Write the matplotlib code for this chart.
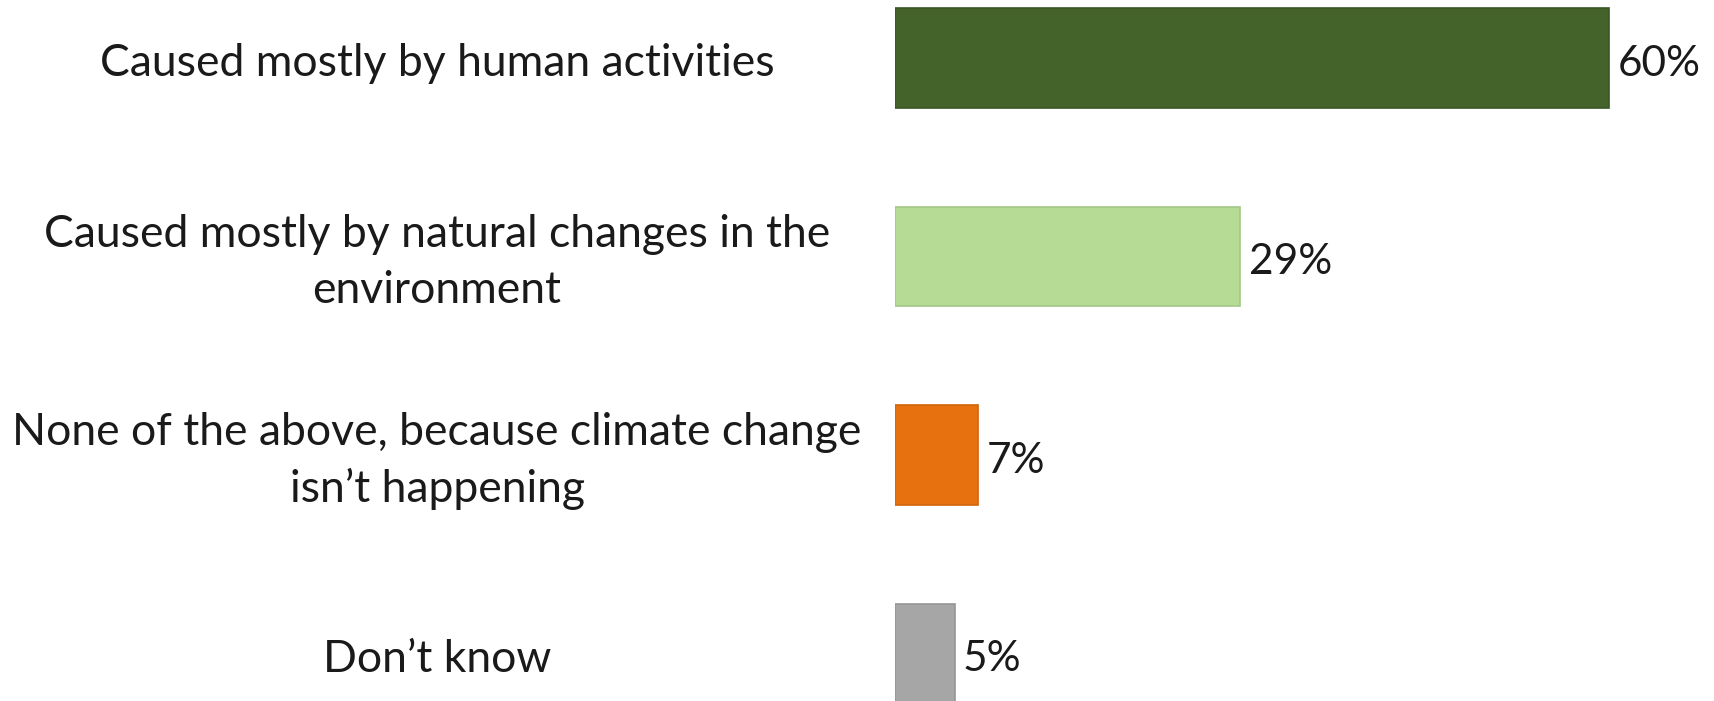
import matplotlib
matplotlib.use("Agg")
import matplotlib.pyplot as plt

categories = [
    "Caused mostly by human activities",
    "Caused mostly by natural changes in the\nenvironment",
    "None of the above, because climate change\nisn\u2019t happening",
    "Don\u2019t know",
]
values = [60, 29, 7, 5]
colors = ["#43632A", "#B6DB95", "#E8710F", "#A6A6A6"]
edges = ["#3A5624", "#A3C787", "#D0650C", "#969696"]

plt.rcParams['font.family'] = ['Lato', 'DejaVu Sans']

W, H = 1715, 701
fig = plt.figure(figsize=(W / 100, H / 100), dpi=100)
ax = fig.add_axes([895 / W, 0, 1 - 895 / W, 1])

y = list(range(len(values)))
ax.barh(y, values, height=0.5, color=colors, edgecolor=edges, linewidth=1.2)
ax.set_xlim(0, 820 / 11.905)
ax.set_ylim(3.239, -0.292)
ax.axis("off")

for yi, v in zip(y, values):
    ax.annotate(f"{v}%", (v, yi), xytext=(6, -4), textcoords="offset points",
                va="center", ha="left", fontsize=30.5, color="#1a1a1a")

# category labels, centered in the left part of the figure
for yi, lab in zip(y, categories):
    _, ypix = ax.transData.transform((0, yi))
    fig.text(437 / W, (ypix - 6) / H, lab, ha="center", va="center", fontsize=32,
             color="#1a1a1a", linespacing=1.45)

fig.savefig("out.png", dpi=100)
